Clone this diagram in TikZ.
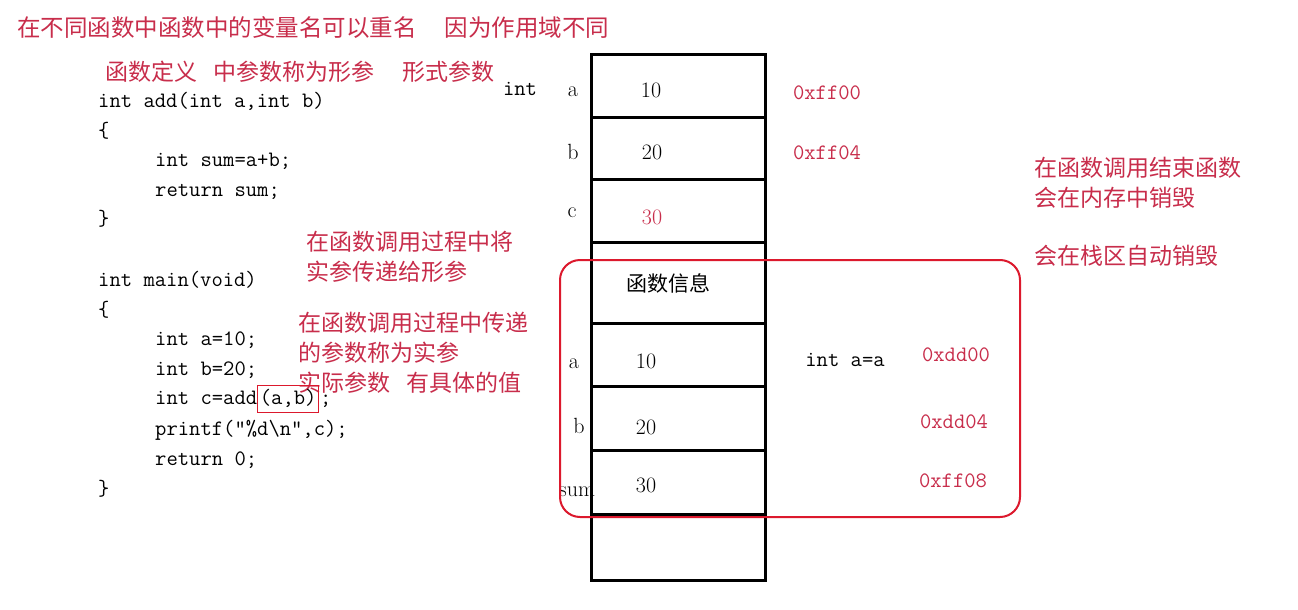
\documentclass[tikz,border=0pt]{standalone}
\usepackage{fontspec}
\newfontfamily\cjk{Noto Sans CJK SC}
\definecolor{notered}{RGB}{200,45,75}
\definecolor{boxred}{RGB}{220,25,45}
\begin{document}
\begin{tikzpicture}[x=1pt,y=-1pt,
    note/.style={anchor=west,inner sep=0pt,text=notered,font=\cjk\fontsize{23}{26}\selectfont},
    code/.style={anchor=west,inner sep=0pt,text height=15pt,text depth=4pt,font=\ttfamily\fontsize{22}{26}\selectfont},
    val/.style={inner sep=0pt,font=\fontsize{22}{26}\selectfont},
    addr/.style={inner sep=0pt,text=notered,font=\ttfamily\fontsize{22}{26}\selectfont},
    cell/.style={line width=3pt}]
    \useasboundingbox[fill=white] (0,0) rectangle (1298,610);
    % notes
    \node[note,font=\cjk\fontsize{23.5}{26}\selectfont] (title) at (17,28) {在不同函数中函数中的变量名可以重名\hspace{28pt}因为作用域不同};
    \node[note] (formal) at (105,72) {函数定义\hspace{16pt}中参数称为形参\hspace{28pt}形式参数};
    \node[note] (pass1) at (306,242) {在函数调用过程中将};
    \node[note] (pass2) at (306,272) {实参传递给形参};
    \node[note] (actual1) at (298,323) {在函数调用过程中传递};
    \node[note] (actual2) at (298,353) {的参数称为实参};
    \node[note] (actual3) at (298,383) {实际参数\hspace{16pt}有具体的值};
    \node[note] (end1) at (1034,168) {在函数调用结束函数};
    \node[note] (end2) at (1034,198) {会在内存中销毁};
    \node[note] (end3) at (1034,256) {会在栈区自动销毁};
    % code
    \foreach \x/\y/\t [count=\i] in {98/102/{int add(int a,int b)},98/132/\{,155/161/int sum=a+b;,
        155/191/return sum;,98/220/\},98/281/int main(void),98/311/\{,155/340/int a=10;,
        155/370/int b=20;,155/430/{printf("\%d\textbackslash n",c);},155/460/return 0;,98/490/\}}
        \node[code] (code\i) at (\x,\y) {\t};
    \node[code] (call) at (155,399) {int c=add};
    \node[code,anchor=base west,draw=boxred,line width=1pt,inner sep=2pt,text height=17pt,text depth=6pt] (args) at (call.base east) {(a,b)};
    \node[code,anchor=base west] (semi) at ([xshift=1pt]args.base east) {;};
    % labels
    \node[inner sep=0pt,font=\ttfamily\fontsize{22}{26}\selectfont] (type) at (520,89) {int};
    \node[val] (la) at (573,92) {a};
    \node[val] (lb) at (573,152) {b};
    \node[val] (lc) at (572,213) {c};
    \node[val] (fa) at (574,364) {a};
    \node[val] (fb) at (579,426) {b};
    \node[val] (fsum) at (577,492) {sum};
    % stack
    \draw[cell] (591,55) rectangle (765,580);
    \foreach \y in {117,179,242,323,386,450,514}
        \draw[cell] (591,\y) -- (765,\y);
    \node[val] (va) at (651,90) {10};
    \node[val] (vb) at (652,152) {20};
    \node[val,text=notered] (vc) at (652,217) {30};
    \node[inner sep=0pt,font=\cjk\fontsize{21}{24}\selectfont] (info) at (668,283) {函数信息};
    \node[val] (wa) at (646,361) {10};
    \node[val] (wb) at (646,427) {20};
    \node[val] (wsum) at (646,485) {30};
    \node[inner sep=0pt,font=\ttfamily\fontsize{22}{26}\selectfont] (copy) at (845,360) {int a=a};
    % addresses
    \node[addr] (ad1) at (827,93) {0xff00};
    \node[addr] (ad2) at (827,153) {0xff04};
    \node[addr] (ad3) at (956,355) {0xdd00};
    \node[addr] (ad4) at (954,422) {0xdd04};
    \node[addr] (ad5) at (953,481) {0xff08};
    % frame
    \draw[boxred,line width=2pt,rounded corners=20pt] (560,260) rectangle (1020,517);
\end{tikzpicture}
\end{document}
